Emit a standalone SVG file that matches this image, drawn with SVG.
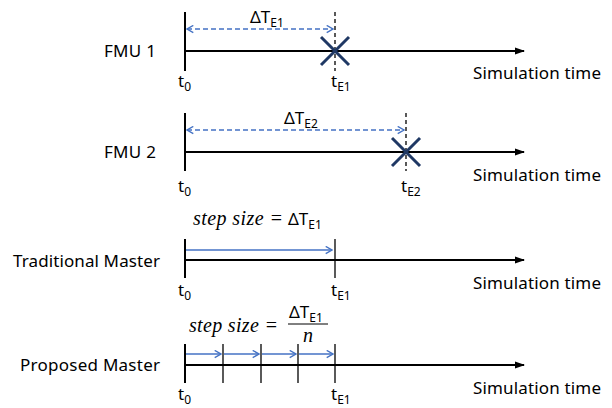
<svg xmlns="http://www.w3.org/2000/svg" width="612" height="408" viewBox="0 0 612 408">
<defs>
<marker id="ah" viewBox="0 0 10 10" refX="9" refY="5" markerWidth="5" markerHeight="5" orient="auto" markerUnits="strokeWidth"><path d="M0,1.5 L10,5 L0,8.5 z" fill="#000"/></marker>
<marker id="bh" viewBox="0 0 10 10" refX="9" refY="5" markerWidth="6" markerHeight="6" orient="auto-start-reverse" markerUnits="strokeWidth"><path d="M2,1 L9,5 L2,9" fill="none" stroke="#4472c4" stroke-width="1.5"/></marker>
<style>
.ax{stroke:#000;stroke-width:2;fill:none}
.tk{stroke:#000;stroke-width:2}
.tk1{stroke:#000;stroke-width:1.3}
.dv{stroke:#000;stroke-width:1.3;stroke-dasharray:4,3}
.db{stroke:#4472c4;stroke-width:1.5;stroke-dasharray:5,3;fill:none}
.sb{stroke:#4472c4;stroke-width:1.5;fill:none}
.xm{stroke:#1f3864;stroke-width:3}
text{font-family:"Noto Sans","Open Sans",sans-serif;font-size:17px;fill:#000}
.sub{font-size:12px}
.m{font-family:"Liberation Serif","DejaVu Serif",serif;font-style:italic;font-size:20px}
</style>
</defs>
<g id="connectors">
<line class="ax" x1="185" y1="51" x2="524" y2="51" marker-end="url(#ah)"/>
<line class="ax" x1="185" y1="152" x2="524" y2="152" marker-end="url(#ah)"/>
<line class="ax" x1="185" y1="260" x2="524" y2="260" marker-end="url(#ah)"/>
<line class="ax" x1="185" y1="365" x2="524" y2="365" marker-end="url(#ah)"/>
<line class="db" x1="187" y1="29" x2="333" y2="29" marker-start="url(#bh)" marker-end="url(#bh)"/>
<line class="db" x1="187" y1="130" x2="404" y2="130" marker-start="url(#bh)" marker-end="url(#bh)"/>
<line class="sb" x1="186" y1="250" x2="332" y2="250" marker-end="url(#bh)"/>
<line class="sb" x1="186" y1="354" x2="221" y2="354" marker-end="url(#bh)"/>
<line class="sb" x1="224" y1="354" x2="259" y2="354" marker-end="url(#bh)"/>
<line class="sb" x1="262" y1="354" x2="296" y2="354" marker-end="url(#bh)"/>
<line class="sb" x1="299" y1="354" x2="333" y2="354" marker-end="url(#bh)"/>
</g>
<g id="fmu1">
<text x="104" y="57" textLength="52">FMU 1</text>
<line class="tk" x1="185" y1="12" x2="185" y2="71"/>
<line class="dv" x1="335" y1="12" x2="335" y2="71"/>
<text x="250" y="23">ΔT<tspan class="sub" dy="4">E1</tspan></text>
<line class="xm" x1="321" y1="37" x2="349" y2="65"/>
<line class="xm" x1="349" y1="37" x2="321" y2="65"/>
<text x="178" y="87">t<tspan class="sub" dy="4">0</tspan></text>
<text x="331" y="87">t<tspan class="sub" dy="4">E1</tspan></text>
<text x="473" y="79" textLength="128">Simulation time</text>
</g>
<g id="fmu2">
<text x="104" y="158" textLength="52">FMU 2</text>
<line class="tk" x1="185" y1="113" x2="185" y2="171"/>
<line class="dv" x1="406" y1="113" x2="406" y2="171"/>
<text x="284" y="124">ΔT<tspan class="sub" dy="4">E2</tspan></text>
<line class="xm" x1="392" y1="138" x2="420" y2="166"/>
<line class="xm" x1="420" y1="138" x2="392" y2="166"/>
<text x="178" y="192">t<tspan class="sub" dy="4">0</tspan></text>
<text x="401" y="192">t<tspan class="sub" dy="4">E2</tspan></text>
<text x="473" y="181" textLength="128">Simulation time</text>
</g>
<g id="traditional">
<text x="13" y="267" textLength="147">Traditional  Master</text>
<line class="tk" x1="185" y1="239" x2="185" y2="278"/>
<line class="tk1" x1="335" y1="239" x2="335" y2="278"/>
<text class="m" x="193" y="225" textLength="90">step size =</text>
<text x="288" y="225">ΔT<tspan class="sub" dy="4">E1</tspan></text>
<text x="178" y="296">t<tspan class="sub" dy="4">0</tspan></text>
<text x="331" y="296">t<tspan class="sub" dy="4">E1</tspan></text>
<text x="473" y="289" textLength="128">Simulation time</text>
</g>
<g id="proposed">
<text x="20" y="371" textLength="140">Proposed  Master</text>
<line class="tk" x1="185" y1="344" x2="185" y2="383"/>
<line class="tk1" x1="223" y1="344" x2="223" y2="383"/>
<line class="tk1" x1="261" y1="344" x2="261" y2="383"/>
<line class="tk1" x1="298" y1="344" x2="298" y2="383"/>
<line class="tk1" x1="335" y1="344" x2="335" y2="383"/>
<text class="m" x="189" y="332" textLength="89">step size =</text>
<text x="289" y="318">ΔT<tspan class="sub" dy="4">E1</tspan></text>
<line stroke="#000" stroke-width="1" x1="288" y1="324" x2="328" y2="324"/>
<text class="m" x="308" y="342" text-anchor="middle">n</text>
<text x="178" y="400">t<tspan class="sub" dy="4">0</tspan></text>
<text x="331" y="400">t<tspan class="sub" dy="4">E1</tspan></text>
<text x="473" y="394" textLength="128">Simulation time</text>
</g>
</svg>
